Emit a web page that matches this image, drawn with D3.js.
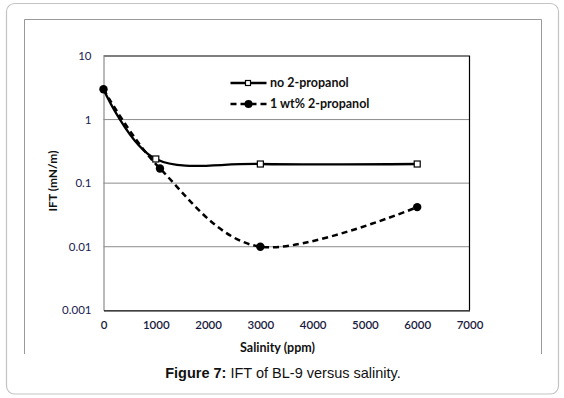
<!DOCTYPE html>
<html><head><meta charset="utf-8">
<script src="https://cdn.jsdelivr.net/npm/d3@7"></script>
<style>
html,body{margin:0;padding:0;background:#fff;}
svg{display:block;}
</style></head>
<body>
<svg id="chart" width="564" height="398"></svg>
<script>
// ---- data ----
const salinityNo = [0, 1000, 3000, 6000];
const iftNo = [3, 0.24, 0.2, 0.2];
const salinityProp = [0, 1080, 3000, 6000];
const iftProp = [3, 0.17, 0.01, 0.042];
const xTicks = [0, 1000, 2000, 3000, 4000, 5000, 6000, 7000];
const yTicks = [0.001, 0.01, 0.1, 1, 10];
const yTickLabels = ["0.001", "0.01", "0.1", "1", "10"];
const seriesNames = ["no 2-propanol", "1 wt% 2-propanol"];

const svg = d3.select("#chart");
const font = "Lato, 'Open Sans', sans-serif";

// outer rounded box
svg.append("rect").attr("x", 6.5).attr("y", 3.5).attr("width", 552).attr("height", 390.5)
  .attr("rx", 8).attr("fill", "#fff").attr("stroke", "#c4c4c4").attr("stroke-width", 1.2);
// inner frame (open at bottom)
svg.append("path").attr("d", "M24.5,354 V19.5 H541.5 V354").attr("fill", "none")
  .attr("stroke", "#999").attr("stroke-width", 1);

const L = 103.5, R = 469.5, T = 56, B = 310.3;
const x = d3.scaleLinear().domain([0, 7000]).range([L, R]);
const y = d3.scaleLog().domain([0.001, 10]).range([B, T]);

// gridlines
svg.append("g").selectAll("line").data([0.01, 0.1, 1]).join("line")
  .attr("x1", L).attr("x2", R).attr("y1", d => y(d)).attr("y2", d => y(d))
  .attr("stroke", "#8c8c8c").attr("stroke-width", 1);

// plot border: top & right black
svg.append("path").attr("d", `M${L},${T} H${R} V${B}`).attr("fill", "none")
  .attr("stroke", "#000").attr("stroke-width", 1.2);

// y axis
const yAxis = d3.axisLeft(y).tickValues(yTicks).tickSize(0).tickPadding(12)
  .tickFormat((d, i) => yTickLabels[i]);
const gy = svg.append("g").attr("transform", `translate(${L},0)`).call(yAxis);
gy.select(".domain").attr("stroke", "#8c8c8c").attr("stroke-width", 1.2);
gy.selectAll("text").attr("font-family", font).attr("font-size", 11.5).attr("fill", "#1a1a50");

// x axis
const xAxis = d3.axisBottom(x).tickValues(xTicks).tickSize(0).tickPadding(11)
  .tickFormat(d3.format("d"));
const gx = svg.append("g").attr("transform", `translate(0,${B})`).call(xAxis);
gx.select(".domain").attr("stroke", "#000").attr("stroke-width", 1.2);
gx.selectAll("text").attr("font-family", font).attr("font-size", 11.5).attr("font-weight", 600).attr("fill", "#1a1a40");

// axis titles
svg.append("text").attr("x", 277.5).attr("y", 352).attr("text-anchor", "middle")
  .attr("font-family", font).attr("font-size", 12.5).attr("font-weight", "bold").attr("fill", "#111")
  .text("Salinity (ppm)");
svg.append("text").attr("transform", "translate(57,181) rotate(-90)").attr("text-anchor", "middle")
  .attr("font-family", font).attr("font-size", 12).attr("font-weight", "bold").attr("fill", "#111")
  .text("IFT (mN/m)");

// lines
const line = d3.line().x(d => x(d[0])).y(d => y(d[1])).curve(d3.curveCardinal.tension(0));
const d1 = salinityNo.map((s, i) => [s, iftNo[i]]);
const d2 = salinityProp.map((s, i) => [s, iftProp[i]]);

svg.append("path").datum(d2).attr("d", line).attr("fill", "none")
  .attr("stroke", "#000").attr("stroke-width", 2.5).attr("stroke-dasharray", "6,4");
svg.append("path").datum(d1).attr("d", line).attr("fill", "none")
  .attr("stroke", "#000").attr("stroke-width", 2.3);

svg.append("g").selectAll("circle").data(d2).join("circle")
  .attr("cx", d => x(d[0])).attr("cy", d => y(d[1])).attr("r", 4.2).attr("fill", "#000");
svg.append("g").selectAll("rect").data(d1.slice(1)).join("rect")
  .attr("x", d => x(d[0]) - 3).attr("y", d => y(d[1]) - 3).attr("width", 6).attr("height", 6)
  .attr("fill", "#fff").attr("stroke", "#000").attr("stroke-width", 1.2);

// legend
const lg = svg.append("g");
lg.append("line").attr("x1", 230.5).attr("x2", 266.5).attr("y1", 83).attr("y2", 83)
  .attr("stroke", "#000").attr("stroke-width", 2.5);
lg.append("rect").attr("x", 245.5).attr("y", 80.5).attr("width", 5).attr("height", 5)
  .attr("fill", "#fff").attr("stroke", "#000").attr("stroke-width", 1.2);
lg.append("line").attr("x1", 230.5).attr("x2", 266.5).attr("y1", 104).attr("y2", 104)
  .attr("stroke", "#000").attr("stroke-width", 2.5).attr("stroke-dasharray", "6,4");
lg.append("circle").attr("cx", 248.5).attr("cy", 104).attr("r", 4).attr("fill", "#000");
lg.selectAll("text").data(seriesNames).join("text")
  .attr("x", 270).attr("y", (d, i) => 87 + i * 21)
  .attr("font-family", font).attr("font-size", 12.5).attr("font-weight", "bold").attr("fill", "#111")
  .text(d => d);

// caption
const cap = svg.append("text").attr("x", 283).attr("y", 378).attr("text-anchor", "middle")
  .attr("font-family", "'Liberation Sans', Arial, sans-serif").attr("font-size", 14.5).attr("fill", "#111");
cap.append("tspan").attr("font-weight", "bold").text("Figure 7:");
cap.append("tspan").text(" IFT of BL-9 versus salinity.");
</script>
</body></html>
